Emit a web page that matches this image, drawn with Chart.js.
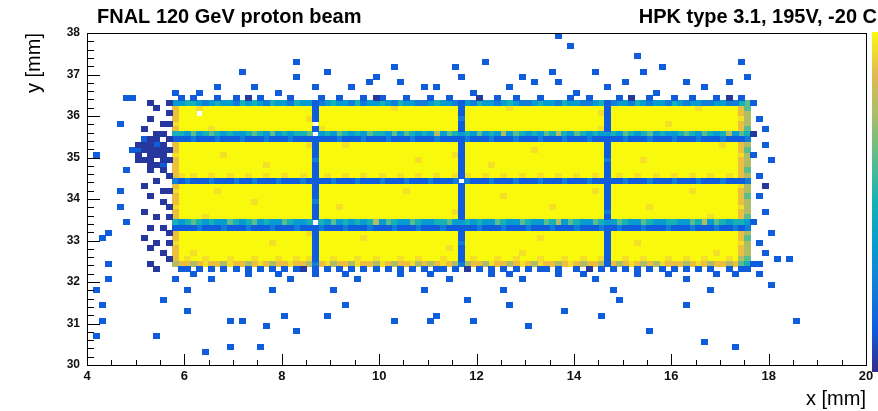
<!DOCTYPE html>
<html>
<head>
<meta charset="utf-8">
<script src="https://cdn.jsdelivr.net/npm/chart.js@4.4.1/dist/chart.umd.min.js"></script>
<style>
  html, body { margin: 0; padding: 0; background: #fff; }
</style>
</head>
<body>
<canvas id="hist" width="878" height="411"></canvas>
<script>
// histogram range and binning (mm)
const xRange = [4, 20];
const yRange = [30, 38];
const binSize = 0.125;

// ROOT kBird-like palette, one colour per content level
const levelColors = {
  '1': 'rgb(38,56,158)',
  '2': 'rgb(15,92,221)',
  '3': 'rgb(18,125,216)',
  '4': 'rgb(7,156,207)',
  '5': 'rgb(21,177,180)',
  '6': 'rgb(89,189,140)',
  '7': 'rgb(175,190,100)',
  '8': 'rgb(236,192,62)',
  '9': 'rgb(244,224,38)',
  'Y': 'rgb(249,249,14)'
};
const paletteStops = ['rgb(53,42,135)', 'rgb(15,92,221)', 'rgb(18,125,216)', 'rgb(7,156,207)',
  'rgb(21,177,180)', 'rgb(89,189,140)', 'rgb(165,190,107)', 'rgb(225,185,82)', 'rgb(249,251,14)'];

// sensor region, read cell by cell ('.' = empty). first column bin 14, top row bin 50
const padFirstCol = 14;
const padTopRow = 50;
const padRows = [
  "4 4554345443 5454354435 44 2 3454435344 5435443345 443 2 4354434543 3454435443 345 2 3443543443 5434433443 3 56",
  "8 YYY9YYYYYY YYYYYYYYYY YY 2 YYYYYYYYYY YY9YYYYYYY YYY 2 YYYYYYY9YY YYYYYYYYYY YYY 2 YYYYYYYYYY YYYY9YYYYY Y 86",
  "8 YYY.YYYYYY YYYYYYYYYY YY 2 YYYYYYYYYY YYYYYYYYYY YYY 2 YYYYYYYYYY YYYYYYYYYY YY9 2 YYYYYYYYYY YYYYYYYYYY Y 87",
  "8 YYYYYYYYYY YYYYYYYYYY Y9 2 YYYYYYYYYY YYYYYYYYYY YYY 3 YYYYYYYYYY YYYYYYYYYY YYY 2 YYYYYYYYYY YYYYYYYYYY Y 97",
  "9 YYYYYYYYYY YYYYYYYYYY YY . YYYYYYYYYY YYYYYYYYYY YYY 2 YYYYYYYYYY YYYYYYYYYY YYY 2 YYYYYYYYY9 YYYYYYYYYY Y 87",
  "8 YYYYY9YYYY YYYYYYYYYY YY 2 9YYYYYYYYY YYYYYYYYYY YYY 2 YYYYYYYYYY YYYYYYYYYY YY9 2 YYYYYYYYYY YYYYYYYYYY Y 86",
  "5 5464565454 4565464545 56 . 4546545465 5464654547 465 4 5464547465 4546575465 454 4 5465456454 4565465457 4 65",
  "2 2232223222 3222322232 22 2 2223222322 2322232223 222 2 3222322232 2232223222 322 2 2232223222 3222322232 2 23",
  "8 YYYYYYYYYY YYYYYYYYYY Y9 2 YYYY9YYYYY YYYYYYYYYY YYY 2 YYYYYYYYYY YYYYYYYYYY YYY 2 YYYYYYYYYY YYYYYYYY9Y Y 87",
  "8 YYYYYYYYYY YYYYYYYYYY YY 2 YYYYYYYYYY YYYYYYYYYY YYY 2 YYYYYYYYYY Y9YYYYYYYY YYY 2 YYYYYYYYYY YYYYYYYYYY Y 86",
  "9 YYYYYYY9YY YYYYYYYYYY YY 2 YYYYYYYYYY YYYYYYYYYY YY9 2 YYYYYYYYYY YYYYYYYYYY YYY 2 YYYYYYYYYY YYYYYYYYYY Y 97",
  "8 YYYYYYYYYY YYYYYYYYYY YY 3 YYYYYYYYYY YYYYYY9YYY YYY 2 YYYYYYYYYY YYYYYYYYYY YYY 3 YYYYY9YYYY YYYYYYYYYY Y 87",
  "8 YYYYYYYYYY YYYY9YYYYY YY 2 YYYYYYYYYY YYYYYYYYYY YYY 2 YYYY9YYYYY YYYYYYYYYY YYY 2 YYYYYYYYYY YYYYYYYYYY Y 87",
  "8 YYYYYYYYYY YYYYYYYYYY YY 2 YYYYYYYYYY YYYYYYYYYY YYY 2 YYYYYYYYYY YYYYYYYYYY YYY 2 YYYYYYYYYY YYYYYYYYYY Y 86",
  "8 9Y9YY9YY9Y Y9YY9YY9YY 9Y 2 Y9YY9YY9YY 9YY9YY9YY9 YY9 2 9YY9YY9YY9 YY9YY9YY9Y Y9Y 2 Y9YY9YY9YY 9YY9YY9YY9 Y 87",
  "3 2322232223 2232223222 32 2 2232223222 3222322232 223 . 3222322232 2232223222 322 2 2232223222 3222322232 2 23",
  "8 YYYYYYYYYY YYYYYYYYYY YY 2 YYYYYYYYYY YYYYYYYYYY YYY 2 YYYYYYYYYY YYYYYYYYYY YYY 2 YYYYYYYYYY YYYYYYYYYY Y 97",
  "9 YYYYYY9YYY YYYYYYYYYY YY 2 YYYYYYYYYY YYYY9YYYYY YYY 2 YYYYYYYYYY YYYYYYYYYY Y9Y 2 YYYYYYYYYY YYY9YYYYYY Y 87",
  "8 YYYYYYYYYY YYYYYYYYYY YY 2 YYYYYYYYYY YYYYYYYYYY YYY 2 YYYYYY9YYY YYYYYYYYYY YYY 2 YYYYYYYYYY YYYYYYYYYY Y 86",
  "8 YYYYYYYYYY YY9YYYYYYY YY 3 YYYYYYYYYY YYYYYYYYYY YYY 2 YYYYYYYYYY YYYYYYYYYY YYY 2 YYYYYYYYYY YYYYYYYYYY Y 87",
  "9 YYYYYYYYYY YYYYYYYYYY YY 2 YYY9YYYYYY YYYYYYYYYY YYY 2 YYYYYYYYYY YYYY9YYYYY YYY 2 YYYYYY9YYY YYYYYYYYYY Y 97",
  "8 YYYYYYYYYY YYYYYYYYYY YY 2 YYYYYYYYYY YYYYYYYYYY YY9 2 YYYYYYYYYY YYYYYYYYYY YYY 3 YYYYYYYYYY YYYYYYYYYY Y 87",
  "8 YYYY9YYYYY YYYYYYYYYY YY 2 YYYYYYYYYY YYYYYYYYYY YYY 2 YYYYYYYYYY YYYYYYYYYY YYY 2 YYYYYYYYYY YYYYYY9YYY Y 86",
  "5 4565454465 4564544654 45 . 5464545457 4654465445 564 4 5454465446 5446574654 465 4 4654465445 5446574654 5 54",
  "2 2223222322 2322232223 22 2 3222322232 2232223222 322 2 2232223222 3222322232 223 2 2322232223 2223222322 3 23",
  "8 YYYYYYYYYY YYYYYYYYYY Y9 2 YYYYYYYYYY YYYYYYYYYY YYY 2 YYYYYYYYYY YYYYYYYYYY YYY 2 YYYYYYYYYY YYYYYYYYYY Y 87",
  "8 YYYYYYYYYY YYYYYYYYYY YY 2 YYYYYYY9YY YYYYYYYYYY YYY 2 YYYYYYYYYY YY9YYYYYYY YYY 2 YYYYYYYYYY YYYYYYYYYY Y 86",
  "9 YYYYYYYYYY YYYYY9YYYY YY 2 YYYYYYYYYY YYYYYYYYYY YYY 3 YYYYYYYYYY YYYYYYYYYY YYY 2 YYYY9YYYYY YYYYYYYYYY Y 97",
  "8 YYYYYYYYYY YYYYYYYYYY YY 2 YYYYYYYYYY YYYYYYYYYY Y9Y 2 YYYYYYYYYY YYYYYYYYYY YYY 2 YYYYYYYYYY YYYYYYYYYY Y 87",
  "8 YY9YYYYYYY YYYYYYYYYY YY 2 YYYYYYYYYY YYYYYYYYYY YYY 2 YYYYYYYYY9 YYYYYYYYYY YYY 2 YYYYYYYYYY YYYYYYY9YY Y 87",
  "8 Y9YY9YYY9Y YY9YYY9YY9 Y9 2 YY9YYY9YY9 YYY9YY9YYY 9YY 2 Y9YYY9YY9Y YY9YYY9YY9 YY9 2 YY9YY9YYY9 YY9YY9YYY9 Y 76",
  "7 8878988798 8789878898 87 3 8978879887 9878897878 987 3 7887988789 8798878987 887 2 8789878798 8878987887 8 65"
];

// single-count cells around the sensor (x, y in mm)
const strayBlue = [
  [13.64,37.88],[13.91,37.71],[7.20,37.06],[8.33,37.28],[8.33,36.99],[8.98,37.11],[9.97,36.99],[10.32,37.20],
  [10.42,36.87],[11.61,37.23],[11.69,36.92],[12.23,37.30],[12.92,36.92],[13.50,37.11],[13.74,36.82],[14.48,37.06],
  [15.34,37.40],[15.38,37.06],[15.75,37.16],[17.39,37.30],[17.50,36.92],[16.37,36.82],[4.84,36.41],[7.45,36.67],
  [7.92,36.58],[9.39,36.67],[9.80,36.75],[10.93,36.63],[12.64,36.67],[13.19,36.75],[14.73,36.67],[15.04,36.82],
  [16.68,36.72],[17.15,36.87],[5.80,36.58],[6.32,36.51],[6.73,36.63],[8.68,36.72],[11.24,36.72],[11.96,36.58],
  [14.11,36.58],[15.65,36.58],
  [5.94,36.43],[6.19,36.43],[6.69,36.43],[7.06,36.43],[7.56,36.43],[8.19,36.43],[8.81,36.43],[9.19,36.43],
  [9.69,36.43],[10.06,36.43],[10.56,36.43],[11.06,36.43],[11.44,36.43],[12.44,36.43],[12.81,36.43],[13.31,36.43],
  [13.94,36.43],[14.31,36.43],[14.94,36.43],[15.56,36.43],[16.06,36.43],[16.44,36.43],[16.94,36.43],[17.44,36.43],
  [17.70,36.27],[17.85,35.95],[17.97,35.71],[17.89,35.25],[17.74,35.06],[18.01,34.89],[17.81,34.58],[17.77,34.02],
  [17.91,33.69],[17.74,33.45],[18.05,33.13],[17.81,32.89],[17.97,32.72],[18.17,32.58],[17.81,32.48],[18.42,32.53],
  [17.70,32.41],[17.81,32.17],[18.11,31.93],[18.52,31.04],
  [4.21,35.01],[4.72,35.78],[4.80,34.70],[4.68,34.22],[4.64,33.86],[4.47,33.13],[4.27,33.01],[4.43,32.48],
  [4.92,36.39],[4.96,35.23],[4.78,33.45],[4.47,32.10],[4.21,31.76],[4.27,31.45],[4.33,31.08],[4.14,30.65],
  [5.94,32.31],[6.31,32.31],[6.81,32.31],[7.06,32.31],[7.56,32.31],[8.06,32.31],[8.69,32.31],[8.94,32.31],
  [9.44,32.31],[9.94,32.31],[10.19,32.31],[10.69,32.31],[11.19,32.31],[11.56,32.31],[12.06,32.31],[12.56,32.31],
  [13.06,32.31],[13.44,32.31],[14.06,32.31],[14.56,32.31],[15.06,32.31],[15.56,32.31],[16.06,32.31],[16.56,32.31],
  [17.19,32.31],[17.56,32.31],
  [6.06,32.31],[6.56,32.31],[7.31,32.31],[7.81,32.31],[8.31,32.31],[9.19,32.31],[9.69,32.31],[10.44,32.31],
  [10.94,32.31],[11.31,32.31],[12.31,32.31],[12.81,32.31],[13.31,32.31],[13.69,32.31],[14.81,32.31],[15.31,32.31],
  [15.81,32.31],[16.31,32.31],[16.81,32.31],[17.44,32.31],
  [5.81,32.06],[6.56,32.06],[7.31,32.19],[8.19,32.06],[8.69,32.19],[9.56,32.06],[10.44,32.19],[11.44,32.06],
  [12.31,32.19],[12.94,32.06],[13.69,32.19],[14.44,32.06],[15.31,32.19],[16.31,32.06],[16.94,32.19],
  [6.19,32.19],[7.94,32.19],[9.31,32.19],[11.06,32.19],[12.69,32.19],[14.19,32.19],[15.94,32.19],[17.31,32.19],
  [6.06,31.81],[7.81,31.81],[9.06,31.81],[10.94,31.81],[12.56,31.81],[14.81,31.81],[16.81,31.81],
  [5.50,31.57],[6.01,31.33],[6.97,31.08],[7.18,31.01],[7.65,30.96],[8.06,31.13],[8.37,30.84],[8.98,31.13],
  [10.32,31.04],[11.04,31.04],[11.16,31.13],[11.96,31.01],[12.68,31.45],[13.09,30.96],[13.81,31.33],[14.52,31.20],
  [15.55,30.84],[16.68,30.60],[17.29,30.48],[6.42,30.29],[5.39,30.67],[6.97,30.43],[7.53,30.43],[9.29,31.45],
  [11.86,31.57],[14.93,31.57],[16.37,31.45],
  [5.44,35.31],[5.06,35.19],[5.19,35.44],[5.56,34.81]
];
const strayNavy = [
  [5.25,36.34],[5.46,36.19],[5.29,35.95],[5.56,35.86],[5.19,35.71],[5.39,35.61],[5.60,35.54],[5.09,35.37],
  [5.29,35.30],[5.46,35.23],[5.19,35.13],[5.60,35.18],[5.33,34.99],[5.50,34.94],[5.09,34.89],[5.25,34.70],
  [5.60,34.65],[5.39,34.46],[5.15,34.31],[5.54,34.22],[5.29,34.02],[5.60,33.90],[5.19,33.73],[5.46,33.61],
  [5.29,33.37],[5.60,33.25],[5.13,33.06],[5.39,32.96],[5.25,32.77],[5.56,32.65],[5.29,32.48],[5.46,32.34],
  [5.31,35.06],[5.44,35.44],[5.56,35.31],[5.69,35.44],[5.31,35.44],[5.44,35.06],[5.56,35.06],[5.69,35.19],
  [5.19,35.31],[5.06,35.06],[5.31,35.19],[5.44,35.19],[5.31,34.81],[5.44,34.81],[5.19,34.94],
  [5.69,36.31],[5.69,36.06],[5.69,35.81],[5.69,34.94],[5.69,34.56],[5.69,34.19],[5.69,33.81],[5.69,33.56],
  [5.69,33.19],[5.69,32.94],[5.69,32.56],
  [7.31,36.43],[9.94,36.43],[12.06,36.43],[15.19,36.43],[17.19,36.43],
  [8.44,32.31],[11.81,32.31],[14.31,32.31],[17.72,35.54],[17.97,34.34]
];

function binCentre(v, lo) {
  return lo + (Math.floor((v - lo) / binSize) + 0.5) * binSize;
}

// group cells by level
const cellsByLevel = {};
function addCell(x, y, lvl) {
  (cellsByLevel[lvl] = cellsByLevel[lvl] || []).push({ x: x, y: y });
}
padRows.forEach((row, r) => {
  const chars = row.replace(/ /g, '');
  const yc = yRange[0] + (padTopRow - r + 0.5) * binSize;
  for (let c = 0; c < chars.length; c++) {
    if (chars[c] === '.') continue;
    addCell(xRange[0] + (padFirstCol + c + 0.5) * binSize, yc, chars[c]);
  }
});
strayBlue.forEach(p => addCell(binCentre(p[0], xRange[0]), binCentre(p[1], yRange[0]), '2'));
strayNavy.forEach(p => addCell(binCentre(p[0], xRange[0]), binCentre(p[1], yRange[0]), '1'));

// one filled rectangle the size of a bin, used as point style
const cellCache = {};
function cellImage(chart, color) {
  const sx = chart.scales.x, sy = chart.scales.y;
  const w = Math.ceil(Math.abs(sx.getPixelForValue(binSize) - sx.getPixelForValue(0)) + 0.5);
  const h = Math.ceil(Math.abs(sy.getPixelForValue(binSize) - sy.getPixelForValue(0)) + 0.5);
  const key = color + w + 'x' + h;
  if (!cellCache[key]) {
    const c = document.createElement('canvas');
    c.width = w; c.height = h;
    const g = c.getContext('2d');
    g.fillStyle = color;
    g.fillRect(0, 0, w, h);
    cellCache[key] = c;
  }
  return cellCache[key];
}

const datasets = Object.keys(levelColors).filter(l => cellsByLevel[l]).map(l => ({
  label: 'level ' + l,
  data: cellsByLevel[l],
  pointRadius: 1,
  pointStyle: ctx => cellImage(ctx.chart, levelColors[l])
}));

const fontFamily = '"Liberation Sans", Arial, Helvetica, sans-serif';

// ROOT-style frame, inner ticks, titles and colour palette
const rootFrame = {
  id: 'rootFrame',
  afterDraw(chart) {
    const ctx = chart.ctx;
    const a = chart.chartArea;
    const sx = chart.scales.x, sy = chart.scales.y;
    ctx.save();
    ctx.strokeStyle = '#000';
    ctx.lineWidth = 1;
    ctx.strokeRect(Math.round(a.left) + 0.5, Math.round(a.top) + 0.5,
      Math.round(a.right - a.left), Math.round(a.bottom - a.top));
    ctx.beginPath();
    for (let k = 0; k <= 32; k++) {
      const v = xRange[0] + k * 0.5;
      const px = Math.round(sx.getPixelForValue(v)) + 0.5;
      const len = k % 4 === 0 ? 11 : 5;
      ctx.moveTo(px, a.bottom);
      ctx.lineTo(px, a.bottom - len);
    }
    for (let k = 0; k <= 40; k++) {
      const v = yRange[0] + k * 0.2;
      const py = Math.round(sy.getPixelForValue(v)) + 0.5;
      const len = k % 5 === 0 ? 13 : 7;
      ctx.moveTo(a.left, py);
      ctx.lineTo(a.left + len, py);
    }
    ctx.stroke();

    // palette axis on the right
    const grad = ctx.createLinearGradient(0, a.bottom + 7, 0, a.top - 1);
    paletteStops.forEach((c, i) => grad.addColorStop(i / (paletteStops.length - 1), c));
    ctx.fillStyle = grad;
    ctx.fillRect(872, a.top - 1, 8, a.bottom - a.top + 8);

    ctx.fillStyle = '#000';
    ctx.font = 'bold 20px ' + fontFamily;
    ctx.textBaseline = 'alphabetic';
    ctx.textAlign = 'left';
    ctx.fillText('FNAL 120 GeV proton beam', 97, 23);
    ctx.textAlign = 'right';
    ctx.fillText('HPK type 3.1, 195V, -20 C', 877, 23);
    ctx.restore();
  }
};

new Chart(document.getElementById('hist'), {
  type: 'scatter',
  data: { datasets: datasets },
  options: {
    responsive: false,
    animation: false,
    events: [],
    layout: { padding: { top: 33, right: 12, left: 0, bottom: 0 } },
    plugins: { legend: { display: false }, tooltip: { enabled: false } },
    scales: {
      x: {
        type: 'linear', min: xRange[0], max: xRange[1],
        grid: { display: false, drawTicks: false },
        border: { display: false },
        ticks: { stepSize: 2, padding: 4, maxRotation: 0, color: '#111',
          font: { family: fontFamily, size: 13, weight: 'bold' } },
        title: { display: true, text: 'x [mm]', align: 'end', color: '#000',
          font: { family: fontFamily, size: 20 }, padding: { top: 0, bottom: 0 } },
        afterFit: s => { s.height = 46; }
      },
      y: {
        type: 'linear', min: yRange[0], max: yRange[1],
        grid: { display: false, drawTicks: false },
        border: { display: false },
        ticks: { stepSize: 1, padding: 7, color: '#111',
          font: { family: fontFamily, size: 12, weight: 'bold' } },
        title: { display: true, text: 'y [mm]', align: 'end', color: '#000',
          font: { family: fontFamily, size: 20 }, padding: { top: 22, bottom: 0 } },
        afterFit: s => { s.width = 87; }
      }
    }
  },
  plugins: [rootFrame]
});
</script>
</body>
</html>
